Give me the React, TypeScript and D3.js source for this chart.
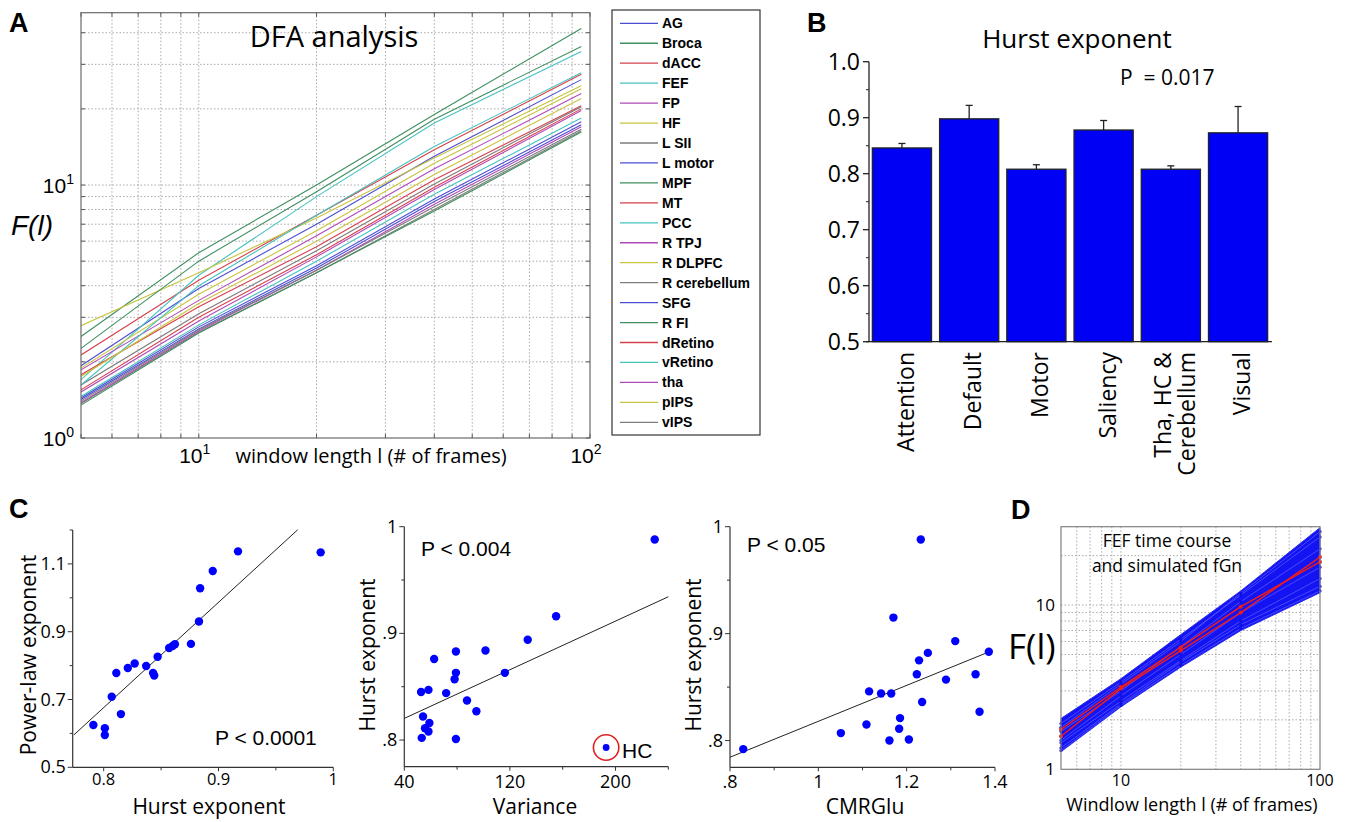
import * as d3 from "d3";
import React from "react";

const FONT_M = "'Open Sans', 'Noto Sans', sans-serif";
const FONT_A = "'Liberation Sans', Arial, sans-serif";

// ---------- A: DFA curves per region ----------
const dfaWindows = [5, 10, 20, 40, 95];
const regionNames = [
  "AG", "Broca", "dACC", "FEF", "FP", "HF", "L SII", "L motor", "MPF", "MT", "PCC",
  "R TPJ", "R DLPFC", "R cerebellum", "SFG", "R FI", "dRetino", "vRetino", "tha", "pIPS", "vIPS",
];
const regionColors = [
  "#4d4dd4", "#3f8f5f", "#d6404e", "#46c2bd", "#b04ab8", "#c9c43e", "#7c7c7c",
  "#4d4dd4", "#3f8f5f", "#d6404e", "#46c2bd", "#b04ab8", "#c9c43e", "#7c7c7c",
  "#4d4dd4", "#3f8f5f", "#d6404e", "#46c2bd", "#b04ab8", "#c9c43e", "#7c7c7c",
];
// F(l) at each window length, one row per region (same order as regionNames)
const dfaValues = [
  [1.93, 3.9, 7.0, 13.0, 26.1],
  [2.52, 5.4, 10.0, 19.0, 41.6],
  [2.13, 4.2, 7.6, 13.8, 27.4],
  [1.70, 4.4, 9.0, 17.6, 33.7],
  [1.86, 3.5, 6.3, 11.6, 23.0],
  [2.78, 4.5, 7.4, 12.8, 24.7],
  [1.37, 2.62, 4.5, 8.0, 16.4],
  [1.44, 2.75, 4.8, 8.8, 17.8],
  [1.35, 2.6, 4.5, 7.9, 16.2],
  [1.78, 3.3, 5.7, 10.5, 20.6],
  [1.46, 2.8, 5.0, 9.2, 18.4],
  [1.38, 2.65, 4.6, 8.4, 17.0],
  [1.89, 3.7, 6.6, 12.2, 24.0],
  [1.62, 3.1, 5.5, 10.1, 20.4],
  [1.42, 2.7, 4.7, 8.6, 17.3],
  [2.26, 5.0, 9.4, 18.2, 35.3],
  [1.55, 3.0, 5.3, 9.8, 20.0],
  [1.62, 4.0, 7.6, 14.2, 27.8],
  [1.52, 2.9, 5.2, 9.6, 19.7],
  [1.75, 3.4, 6.0, 11.0, 22.0],
  [1.40, 2.68, 4.6, 8.2, 16.6],
];

// ---------- B: Hurst exponent per network ----------
const networks = ["Attention", "Default", "Motor", "Saliency", "Tha, HC & Cerebellum", "Visual"];
const networkLabelLines = [["Attention"], ["Default"], ["Motor"], ["Saliency"], ["Tha, HC &", "Cerebellum"], ["Visual"]];
const hurstMean = [0.846, 0.898, 0.808, 0.878, 0.808, 0.873];
const hurstSem = [0.008, 0.024, 0.008, 0.017, 0.006, 0.047];

// ---------- C: scatter plots ----------
const hurstC1 = [0.791, 0.801, 0.801, 0.815, 0.807, 0.811, 0.821, 0.827, 0.837, 0.843, 0.844,
  0.847, 0.857, 0.860, 0.862, 0.876, 0.883, 0.884, 0.895, 0.917, 0.989];
const powerLawExp = [0.625, 0.615, 0.595, 0.657, 0.708, 0.778, 0.793, 0.806, 0.799, 0.778, 0.771,
  0.826, 0.852, 0.858, 0.863, 0.864, 0.930, 1.028, 1.079, 1.137, 1.134];
const fitPower = { slope: 3.104, intercept: -1.807, from: 0.774, to: 0.969 };

const varianceC2 = [229.7, 155.0, 133.5, 116.2, 101.5, 79.1, 62.6, 79.1, 78.1, 71.7, 58.3,
  52.7, 87.5, 94.6, 54.2, 59.0, 55.7, 58.3, 53.2, 79.1];
const hurstC2 = [0.988, 0.916, 0.894, 0.863, 0.884, 0.883, 0.876, 0.863, 0.857, 0.844, 0.847,
  0.845, 0.837, 0.827, 0.822, 0.816, 0.811, 0.808, 0.802, 0.801];
const hcPoint = { variance: 192.9, hurst: 0.793, label: "HC" };
const fitVariance = { slope: 0.00057, intercept: 0.7975, from: 40, to: 240 };

const cmrglu = [0.830, 1.051, 1.109, 1.115, 1.142, 1.165, 1.170, 1.232, 1.185, 1.183, 1.161,
  1.205, 1.223, 1.228, 1.248, 1.235, 1.310, 1.289, 1.356, 1.365, 1.386];
const hurstC3 = [0.792, 0.807, 0.815, 0.846, 0.844, 0.844, 0.915, 0.988, 0.821, 0.811, 0.800,
  0.801, 0.862, 0.875, 0.882, 0.836, 0.893, 0.857, 0.862, 0.827, 0.883];
const fitCmr = { slope: 0.168, intercept: 0.650, from: 0.8, to: 1.38 };

// ---------- D: FEF vs simulated fGn ----------
const dWindows = [5, 10, 20, 40, 100];
const fgnUpper = [2.04, 3.56, 6.61, 12.2, 29.6];
const fgnLower = [1.28, 2.40, 4.19, 6.99, 11.9];
const fgnSamples = [
  [1.35, 2.5, 4.5, 7.6, 13.0],
  [1.9, 3.4, 6.2, 11.5, 26.0],
  [1.5, 2.8, 5.0, 9.0, 17.0],
  [1.7, 3.0, 5.6, 10.5, 22.0],
  [1.45, 2.6, 4.6, 8.0, 14.5],
  [1.8, 3.3, 6.0, 11.8, 28.0],
  [1.3, 2.45, 4.3, 7.2, 12.2],
];
const fefRed = [
  [1.75, 3.17, 5.54, 9.77, 18.3],
  [1.59, 3.10, 5.28, 9.0, 19.6],
];

const Label = ({ x, y, t }: { x: number; y: number; t: string }) => (
  <text x={x} y={y} fontFamily={FONT_A} fontWeight="bold" fontSize={27}>{t}</text>
);

function PanelA() {
  const x = d3.scaleLog().domain([5, 100]).range([81, 590]);
  const y = d3.scaleLog().domain([1, 48]).range([438, 12.7]);
  const line = d3.line<[number, number]>().x(d => x(d[0])).y(d => y(d[1]));
  const xg = x.ticks().filter(v => v > 5 && v < 100);
  const yg = y.ticks().filter(v => v > 1);
  const legendStep = 19.95;
  return (
    <g>
      <Label x={9} y={32} t="A" />
      {xg.map(v => (
        <line key={"xg" + v} x1={x(v)} x2={x(v)} y1={12.7} y2={438} stroke="#a8a8a8" strokeDasharray="1.5,2" />
      ))}
      {yg.map(v => (
        <line key={"yg" + v} x1={81} x2={590} y1={y(v)} y2={y(v)} stroke="#a8a8a8" strokeDasharray="1.5,2" />
      ))}
      <clipPath id="clipA"><rect x={81} y={12.7} width={509} height={425.3} /></clipPath>
      <g clipPath="url(#clipA)">
        {dfaValues.map((vals, i) => (
          <path key={i} d={line(vals.map((v, j) => [dfaWindows[j], v]))!} fill="none"
            stroke={regionColors[i]} strokeWidth={1.1} />
        ))}
      </g>
      {yg.concat([1]).map(v => (
        <g key={"yt" + v}>
          <line x1={81} x2={85} y1={y(v)} y2={y(v)} stroke="#555" />
          <line x1={586} x2={590} y1={y(v)} y2={y(v)} stroke="#555" />
        </g>
      ))}
      {x.ticks().map(v => (
        <g key={"xt" + v}>
          <line x1={x(v)} x2={x(v)} y1={434} y2={438} stroke="#555" />
          <line x1={x(v)} x2={x(v)} y1={12.7} y2={16.7} stroke="#555" />
        </g>
      ))}
      <rect x={81} y={12.7} width={509} height={425.3} fill="none" stroke="#6a6a6a" strokeWidth={1.2} />
      <text x={334} y={47} textAnchor="middle" fontFamily={FONT_M} fontSize={29}>DFA analysis</text>
      {[1, 10].map(v => (
        <text key={"yl" + v} x={74} y={y(v) + 8} textAnchor="end" fontFamily={FONT_A} fontSize={21}>
          10<tspan fontSize={14} dy={-9}>{v === 1 ? "0" : "1"}</tspan>
        </text>
      ))}
      {[10, 100].map(v => (
        <text key={"xl" + v} x={x(v) - 4} y={463} textAnchor="middle" fontFamily={FONT_A} fontSize={21}>
          10<tspan fontSize={14} dy={-9}>{v === 10 ? "1" : "2"}</tspan>
        </text>
      ))}
      <text x={371} y={463} textAnchor="middle" fontFamily={FONT_M} fontSize={20}>window length l (# of frames)</text>
      <text x={11} y={235} fontFamily={FONT_A} fontStyle="italic" fontSize={28}>F(l)</text>
      <rect x={612} y={10} width={148} height={425} fill="white" stroke="#333" strokeWidth={1.2} />
      {regionNames.map((n, i) => (
        <g key={n}>
          <line x1={620} x2={658} y1={23.3 + i * legendStep} y2={23.3 + i * legendStep}
            stroke={regionColors[i]} strokeWidth={1.3} />
          <text x={662} y={23.3 + i * legendStep + 5} fontFamily={FONT_A} fontWeight="bold" fontSize={14}>{n}</text>
        </g>
      ))}
    </g>
  );
}

function PanelB() {
  const x = d3.scaleBand<string>().domain(networks).range([869, 1271]).paddingInner(0.12).paddingOuter(0.05);
  const y = d3.scaleLinear().domain([0.5, 1.0]).range([341.7, 61.7]);
  const major = d3.range(0.5, 1.01, 0.1);
  const minor = d3.range(0.55, 1.0, 0.1);
  return (
    <g>
      <Label x={807} y={32} t="B" />
      <text x={1077} y={48} textAnchor="middle" fontFamily={FONT_M} fontSize={26}>Hurst exponent</text>
      <text x={1120} y={85} fontFamily={FONT_M} fontSize={21}>{"P\u00a0\u00a0= 0.017"}</text>
      {networks.map((n, i) => {
        const cx = x(n)! + x.bandwidth() / 2;
        return (
          <g key={n}>
            <line x1={cx} x2={cx} y1={y(hurstMean[i])} y2={y(hurstMean[i] + hurstSem[i])} stroke="#222" strokeWidth={1.3} />
            <line x1={cx - 3.5} x2={cx + 3.5} y1={y(hurstMean[i] + hurstSem[i])} y2={y(hurstMean[i] + hurstSem[i])} stroke="#222" strokeWidth={1.3} />
            <rect x={x(n)} y={y(hurstMean[i])} width={x.bandwidth()} height={y(0.5) - y(hurstMean[i])}
              fill="#0000f5" stroke="#222" strokeWidth={1.3} />
            {networkLabelLines[i].map((t, k) => {
              const lx = cx + (k - (networkLabelLines[i].length - 1) / 2) * 24 + 3;
              return (
                <text key={t} transform={`translate(${lx},${352}) rotate(-90)`} textAnchor="end"
                  dominantBaseline="central" fontFamily={FONT_M} fontSize={23}>{t}</text>
              );
            })}
          </g>
        );
      })}
      <line x1={869} x2={869} y1={61.7} y2={341.7} stroke="#222" strokeWidth={1.3} />
      <line x1={866} x2={1272} y1={341.7} y2={341.7} stroke="#222" strokeWidth={1.3} />
      {major.map(v => (
        <g key={"bm" + v}>
          <line x1={863} x2={869} y1={y(v)} y2={y(v)} stroke="#222" strokeWidth={1.3} />
          <text x={860} y={y(v) + 8} textAnchor="end" fontFamily={FONT_M} fontSize={23}>{v.toFixed(1)}</text>
        </g>
      ))}
      {minor.map(v => (
        <line key={"bn" + v} x1={866} x2={869} y1={y(v)} y2={y(v)} stroke="#222" />
      ))}
    </g>
  );
}

type ScatterProps = {
  xs: number[]; ys: number[];
  xDomain: [number, number]; yDomain: [number, number];
  xRange: [number, number]; yRange: [number, number];
  xMajor: number[]; xMinor: number[]; yMajor: number[]; yMinor: number[];
  xFmt: (v: number) => string; yFmt: (v: number) => string;
  fit: { slope: number; intercept: number; from: number; to: number };
  xLabel: string; yLabel: string; yLabelX: number; xLabelX: number; xTickY: number; xTickSize: number;
};

function Scatter(p: ScatterProps) {
  const x = d3.scaleLinear().domain(p.xDomain).range(p.xRange);
  const y = d3.scaleLinear().domain(p.yDomain).range(p.yRange);
  const [x0, x1] = p.xRange;
  const [y0, y1] = p.yRange;
  const ax = "#333";
  return (
    <g>
      <line x1={x(p.fit.from)} y1={y(p.fit.slope * p.fit.from + p.fit.intercept)}
        x2={x(p.fit.to)} y2={y(p.fit.slope * p.fit.to + p.fit.intercept)} stroke="#222" strokeWidth={1} />
      {p.xs.map((v, i) => (
        <circle key={i} cx={x(v)} cy={y(p.ys[i])} r={4.2} fill="#0000ff" />
      ))}
      <line x1={x0} x2={x0} y1={y0} y2={y1} stroke={ax} strokeWidth={1.2} />
      <line x1={x0} x2={x1} y1={y0} y2={y0} stroke={ax} strokeWidth={1.2} />
      {p.yMajor.map(v => (
        <g key={"ym" + v}>
          <line x1={x0 - 5} x2={x0} y1={y(v)} y2={y(v)} stroke={ax} />
          <text x={x0 - 7} y={y(v) + 6} textAnchor="end" fontFamily={FONT_M} fontSize={18}>{p.yFmt(v)}</text>
        </g>
      ))}
      {p.yMinor.map(v => <line key={"yn" + v} x1={x0 - 3} x2={x0} y1={y(v)} y2={y(v)} stroke={ax} />)}
      {p.xMajor.map(v => (
        <g key={"xm" + v}>
          <line x1={x(v)} x2={x(v)} y1={y0} y2={y0 + 4} stroke={ax} />
          <text x={x(v)} y={p.xTickY} textAnchor="middle" fontFamily={FONT_M} fontSize={p.xTickSize}>{p.xFmt(v)}</text>
        </g>
      ))}
      {p.xMinor.map(v => <line key={"xn" + v} x1={x(v)} x2={x(v)} y1={y0} y2={y0 + 3} stroke={ax} />)}
      <text x={p.xLabelX} y={814} textAnchor="middle" fontFamily={FONT_M} fontSize={21}>{p.xLabel}</text>
      <text transform={`translate(${p.yLabelX},${655}) rotate(-90)`} textAnchor="middle"
        dominantBaseline="central" fontFamily={FONT_M} fontSize={21}>{p.yLabel}</text>
    </g>
  );
}

function PanelC() {
  const dot = (v: number) => v.toFixed(1).replace(/^0/, "");
  const xHC = d3.scaleLinear().domain([40, 240]).range([404.3, 668.3]);
  const yHC = d3.scaleLinear().domain([0.775, 1.0]).range([766.7, 526.7]);
  return (
    <g>
      <Label x={9} y={518} t="C" />
      <Scatter xs={hurstC1} ys={powerLawExp} xDomain={[0.773, 1.0]} yDomain={[0.5, 1.2]}
        xRange={[72.7, 333.3]} yRange={[767.3, 530]}
        xMajor={[0.8, 0.9, 1.0]} xMinor={[0.85, 0.95]} yMajor={[0.5, 0.7, 0.9, 1.1]} yMinor={[0.6, 0.8, 1.0, 1.2]}
        xFmt={v => (v === 1 ? "1" : v.toFixed(1))} yFmt={v => v.toFixed(1)} fit={fitPower}
        xLabel="Hurst exponent" yLabel="Power-law exponent" yLabelX={28} xLabelX={209} xTickY={785} xTickSize={16.5} />
      <text x={215} y={745} fontFamily={FONT_A} fontSize={21}>P &lt; 0.0001</text>

      <Scatter xs={varianceC2} ys={hurstC2} xDomain={[40, 240]} yDomain={[0.775, 1.0]}
        xRange={[404.3, 668.3]} yRange={[766.7, 526.7]}
        xMajor={[40, 120, 200]} xMinor={[80, 160, 240]} yMajor={[0.8, 0.9, 1.0]} yMinor={[0.85, 0.95]}
        xFmt={v => String(v)} yFmt={v => (v === 1 ? "1" : dot(v))} fit={fitVariance}
        xLabel="Variance" yLabel="Hurst exponent" yLabelX={367} xLabelX={535} xTickY={788} xTickSize={18} />
      <circle cx={xHC(hcPoint.variance)} cy={yHC(hcPoint.hurst)} r={3.4} fill="#0000ff" />
      <circle cx={xHC(hcPoint.variance)} cy={yHC(hcPoint.hurst)} r={12.7} fill="none" stroke="#e02020" strokeWidth={1.6} />
      <text x={622} y={758} fontFamily={FONT_A} fontSize={21}>{hcPoint.label}</text>
      <text x={421} y={556} fontFamily={FONT_A} fontSize={21}>P &lt; 0.004</text>

      <Scatter xs={cmrglu} ys={hurstC3} xDomain={[0.8, 1.4]} yDomain={[0.775, 1.0]}
        xRange={[730, 995]} yRange={[767.3, 526.7]}
        xMajor={[0.8, 1.0, 1.2, 1.4]} xMinor={[0.9, 1.1, 1.3]} yMajor={[0.8, 0.9, 1.0]} yMinor={[0.85, 0.95]}
        xFmt={v => (v === 1 ? "1" : dot(v))} yFmt={v => (v === 1 ? "1" : dot(v))} fit={fitCmr}
        xLabel="CMRGlu" yLabel="Hurst exponent" yLabelX={693} xLabelX={865} xTickY={788} xTickSize={18} />
      <text x={747} y={552} fontFamily={FONT_A} fontSize={21}>P &lt; 0.05</text>
    </g>
  );
}

function PanelD() {
  const x = d3.scaleLog().domain([5, 100]).range([1061, 1320]);
  const y = d3.scaleLog().domain([1, 30]).range([769.3, 526.7]);
  const pts = (vals: number[]) => vals.map((v, j) => [dWindows[j], v] as [number, number]);
  const line = d3.line<[number, number]>().x(d => x(d[0])).y(d => y(d[1]));
  const area = d3.area<number>().x((_, j) => x(dWindows[j])).y0((_, j) => y(fgnLower[j])).y1(v => y(v));
  const xg = x.ticks().filter(v => v > 5 && v < 100);
  const yg = y.ticks().filter(v => v > 1 && v < 30);
  return (
    <g>
      <Label x={1011} y={519} t="D" />
      {xg.map(v => <line key={"dx" + v} x1={x(v)} x2={x(v)} y1={526.7} y2={769.3} stroke="#aaa" strokeDasharray="1.5,2" />)}
      {yg.map(v => <line key={"dy" + v} x1={1061} x2={1320} y1={y(v)} y2={y(v)} stroke="#aaa" strokeDasharray="1.5,2" />)}
      <text x={1167} y={547} textAnchor="middle" fontFamily={FONT_M} fontSize={17.5}>FEF time course</text>
      <text x={1167} y={572} textAnchor="middle" fontFamily={FONT_M} fontSize={17.5}>and simulated fGn</text>
      <path d={area(fgnUpper)!} fill="#1414f2" stroke="#2a2af0" strokeWidth={1} />
      {fgnSamples.map((s, i) => (
        <g key={"s" + i}>
          <path d={line(pts(s))!} fill="none" stroke="#5555ff" strokeWidth={0.8} />
          {pts(s).map((d, j) => <circle key={j} cx={x(d[0])} cy={y(d[1])} r={1.6} fill="#1010e0" />)}
        </g>
      ))}
      {fefRed.map((s, i) => (
        <g key={"r" + i}>
          <path d={line(pts(s))!} fill="none" stroke="#ee1c1c" strokeWidth={1.5} />
          {pts(s).map((d, j) => <circle key={j} cx={x(d[0])} cy={y(d[1])} r={2} fill="#ee1c1c" />)}
        </g>
      ))}
      <rect x={1061} y={526.7} width={259} height={242.6} fill="none" stroke="#808080" strokeWidth={1.2} />
      {[1, 10].map(v => (
        <text key={"dyl" + v} x={1055} y={y(v) + 6} textAnchor="end" fontFamily={FONT_M} fontSize={17}>{v}</text>
      ))}
      {[10, 100].map(v => (
        <text key={"dxl" + v} x={x(v)} y={786} textAnchor="middle" fontFamily={FONT_M} fontSize={16}>{v}</text>
      ))}
      <text x={1192} y={811} textAnchor="middle" fontFamily={FONT_M} fontSize={18}>Windlow length l (# of frames)</text>
      <text x={1008} y={659} fontFamily={FONT_M} fontSize={35}>F(l)</text>
    </g>
  );
}

export default function App() {
  return (
    <svg width={1345} height={822} style={{ position: "absolute", left: 0, top: 0, background: "white" }}>
      <rect width={1345} height={822} fill="white" />
      <PanelA />
      <PanelB />
      <PanelC />
      <PanelD />
    </svg>
  );
}
